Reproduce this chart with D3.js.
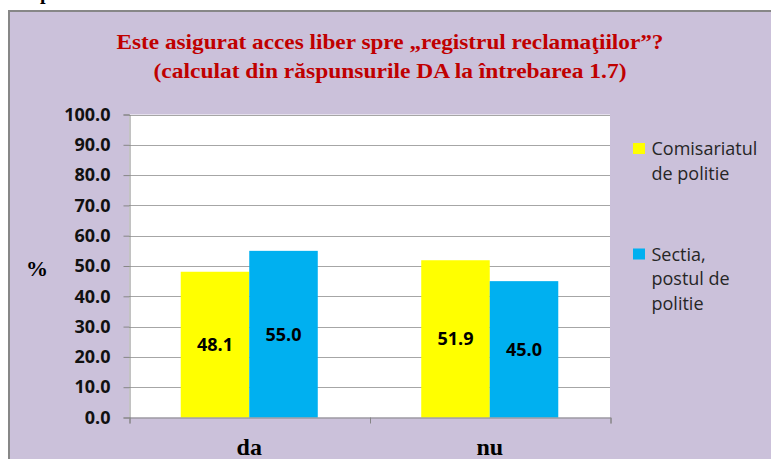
<!DOCTYPE html>
<html>
<head>
<meta charset="utf-8">
<script src="https://cdn.jsdelivr.net/npm/d3@7"></script>
<style>
  body { margin: 0; background: #fff; }
  svg { display: block; }
</style>
</head>
<body>
<svg class="bar-chart"></svg>
<script>
// data
const CATEGORIES = ["da", "nu"];
const SERIES = ["Comisariatul de politie", "Sectia, postul de politie"];
const COMISARIAT = [48.1, 51.9];
const SECTIA = [55.0, 45.0];
const Y_TICKS = [0, 10, 20, 30, 40, 50, 60, 70, 80, 90, 100];
const LEGEND_LINES = [["Comisariatul", "de politie"], ["Sectia,", "postul de", "politie"]];
const TITLE_LINES = [
  "Este asigurat acces liber spre \u201Eregistrul reclama\u0163iilor\u201D?",
  "(calculat din r\u0103spunsurile DA la \u00eentrebarea 1.7)"
];

const WIDTH = 771;
const HEIGHT = 459;
const PLOT = { left: 129, right: 610, top: 114.5, bottom: 417.5 };
const COLORS = ["#FFFF00", "#00B0F0"];
const BG = "#CBC1DA";

buildChart();

function buildChart() {
  var svg = d3.select(".bar-chart").attr("width", WIDTH).attr("height", HEIGHT);

  // stray descender of the document text above the chart
  svg.append("text")
    .attr("x", 40).attr("y", -1)
    .style("font", "bold 20px 'Liberation Serif'")
    .text("p");

  // chart box
  svg.append("rect")
    .attr("x", 9).attr("y", 11)
    .attr("width", WIDTH + 20).attr("height", HEIGHT + 20)
    .attr("fill", BG)
    .attr("stroke", "#878787")
    .attr("stroke-width", 2);

  drawTitle(svg);

  var x = d3.scaleBand().domain(CATEGORIES).range([PLOT.left, PLOT.right]);
  var xSeries = d3.scaleBand().domain(SERIES).range([0, x.bandwidth()])
    .paddingInner(0).paddingOuter(0.755);
  var y = d3.scaleLinear().domain([0, 100]).range([PLOT.bottom, PLOT.top]);

  svg.append("rect")
    .attr("x", PLOT.left).attr("y", PLOT.top)
    .attr("width", PLOT.right - PLOT.left).attr("height", PLOT.bottom - PLOT.top)
    .attr("fill", "#fff");

  // gridlines
  svg.append("g")
    .selectAll("line")
    .data(Y_TICKS.slice(1))
    .enter().append("line")
    .attr("x1", PLOT.left).attr("x2", PLOT.right)
    .attr("y1", function(d) { return Math.round(y(d)) + 0.5; })
    .attr("y2", function(d) { return Math.round(y(d)) + 0.5; })
    .attr("stroke", "#A6A6A6")
    .attr("stroke-width", 1);

  // bars
  var table = CATEGORIES.map(function(c, i) {
    return { cat: c, values: [
      { series: SERIES[0], value: COMISARIAT[i], color: COLORS[0] },
      { series: SERIES[1], value: SECTIA[i], color: COLORS[1] }
    ] };
  });

  var group = svg.selectAll(".cat")
    .data(table)
    .enter().append("g")
    .attr("class", "cat")
    .attr("transform", function(d) { return "translate(" + x(d.cat) + ",0)"; });

  group.selectAll("rect")
    .data(function(d) { return d.values; })
    .enter().append("rect")
    .attr("x", function(d) { return xSeries(d.series); })
    .attr("y", function(d) { return y(d.value); })
    .attr("width", xSeries.bandwidth())
    .attr("height", function(d) { return y(0) - y(d.value); })
    .attr("fill", function(d) { return d.color; });

  group.selectAll(".val")
    .data(function(d) { return d.values; })
    .enter().append("text")
    .attr("class", "val")
    .attr("x", function(d) { return xSeries(d.series) + xSeries.bandwidth() / 2; })
    .attr("y", function(d) { return (y(d.value) + y(0)) / 2; })
    .attr("dy", "0.36em")
    .attr("text-anchor", "middle")
    .style("font", "bold 18px 'Open Sans'")
    .attr("fill", "#000")
    .text(function(d) { return d3.format(".1f")(d.value); });

  // y axis
  var yAxis = svg.append("g")
    .attr("transform", "translate(" + (PLOT.left + 0.5) + ",0)")
    .call(d3.axisLeft(y).tickValues(Y_TICKS).tickFormat(d3.format(".1f")).tickSize(6).tickPadding(13));
  yAxis.select(".domain").attr("stroke", "#868686");
  yAxis.selectAll(".tick line").attr("stroke", "#868686");
  yAxis.selectAll(".tick text")
    .style("font", "bold 18px 'Open Sans'")
    .attr("fill", "#111");

  // x axis, ticks on the category boundaries
  var edges = d3.scaleLinear().domain([0, CATEGORIES.length]).range([PLOT.left + 0.5, PLOT.right + 0.5]);
  var xAxis = svg.append("g")
    .attr("transform", "translate(0," + PLOT.bottom + ")")
    .call(d3.axisBottom(edges).ticks(CATEGORIES.length).tickFormat("").tickSize(6).tickSizeOuter(6));
  xAxis.select(".domain").attr("stroke", "#868686");
  xAxis.selectAll(".tick line").attr("stroke", "#868686");

  svg.append("g")
    .selectAll("text")
    .data(CATEGORIES)
    .enter().append("text")
    .attr("x", function(d) { return x(d) + x.bandwidth() / 2; })
    .attr("y", 455)
    .attr("text-anchor", "middle")
    .style("font", "bold 24px 'Liberation Serif'")
    .attr("fill", "#000")
    .text(function(d) { return d; });

  svg.append("text")
    .attr("x", 37).attr("y", y(50) + 2)
    .attr("dy", "0.35em")
    .attr("text-anchor", "middle")
    .style("font", "bold 22px 'Liberation Serif'")
    .text("%");

  drawLegend(svg);
}

function drawTitle(svg) {
  var widths = [547, 473];
  svg.selectAll(".title")
    .data(TITLE_LINES)
    .enter().append("text")
    .attr("class", "title")
    .attr("x", 390)
    .attr("y", function(d, i) { return 49 + i * 29; })
    .attr("text-anchor", "middle")
    .attr("textLength", function(d, i) { return widths[i]; })
    .attr("lengthAdjust", "spacingAndGlyphs")
    .style("font", "bold 22px 'Liberation Serif'")
    .attr("fill", "#C00000")
    .text(function(d) { return d; });
}

function drawLegend(svg) {
  var tops = [155, 260.5];
  var item = svg.selectAll(".legend")
    .data(SERIES)
    .enter().append("g")
    .attr("class", "legend")
    .attr("transform", function(d, i) { return "translate(633," + tops[i] + ")"; });

  item.append("rect")
    .attr("x", 0).attr("y", -12)
    .attr("width", 12).attr("height", 11)
    .attr("fill", function(d, i) { return COLORS[i]; });

  item.append("text")
    .style("font", "18px 'Open Sans'")
    .attr("fill", "#262626")
    .selectAll("tspan")
    .data(function(d, i) { return LEGEND_LINES[i]; })
    .enter().append("tspan")
    .attr("x", 18.5)
    .attr("y", function(d, j) { return j * 24.5; })
    .text(function(d) { return d; });
}
</script>
</body>
</html>
